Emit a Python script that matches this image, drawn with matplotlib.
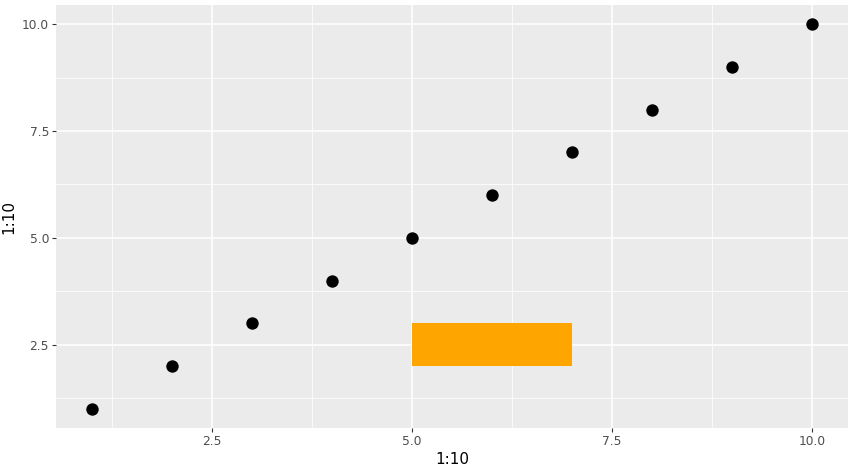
import matplotlib
matplotlib.use("Agg")
import matplotlib.pyplot as plt
from matplotlib.patches import Rectangle

x = list(range(1, 11))
y = list(range(1, 11))
rect_x = [5, 7]
rect_y = [2, 3]
xticks = [2.5, 5.0, 7.5, 10.0]
yticks = [2.5, 5.0, 7.5, 10.0]

fig = plt.figure(figsize=(8.58, 4.73), dpi=100)
W, H = 858, 473
ax = fig.add_axes([56 / W, (H - 428) / H, (848 - 56) / W, (428 - 5) / H])
ax.set_facecolor("#EBEBEB")
ax.set_xlim(0.55, 10.45)
ax.set_ylim(0.55, 10.45)
ax.set_xticks(xticks)
ax.set_yticks(yticks)
ax.set_xticks([1.25, 3.75, 6.25, 8.75], minor=True)
ax.set_yticks([1.25, 3.75, 6.25, 8.75], minor=True)
ax.grid(which="major", color="white", linewidth=1.1)
ax.grid(which="minor", color="white", linewidth=0.55)
ax.set_axisbelow(True)
for s in ax.spines.values():
    s.set_visible(False)
ax.tick_params(which="major", length=3, width=0.8, color="#333333", labelcolor="#4D4D4D", labelsize=8.8, pad=2)
ax.tick_params(which="minor", length=0)
ax.set_xticklabels([f"{v:.1f}" for v in xticks])
ax.set_yticklabels([f"{v:.1f}" for v in yticks])

ax.add_patch(Rectangle((rect_x[0], rect_y[0]), rect_x[1] - rect_x[0], rect_y[1] - rect_y[0],
                       facecolor="#FFA500", edgecolor="none", zorder=2))
ax.scatter(x, y, s=80, color="black", zorder=3, linewidths=0)

ax.set_xlabel("1:10", fontsize=11, labelpad=3)
ax.set_ylabel("1:10", fontsize=11, labelpad=4)
fig.savefig("out.png", dpi=100)
